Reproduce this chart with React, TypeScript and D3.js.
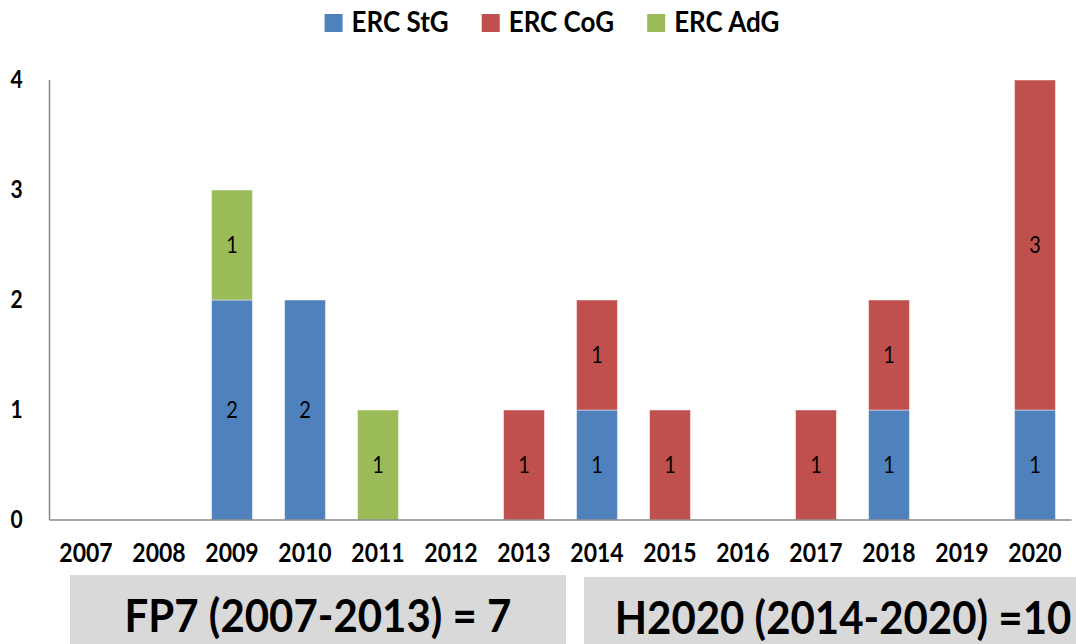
import { useEffect, useRef } from "react";
import * as d3 from "d3";

const years = ["2007", "2008", "2009", "2010", "2011", "2012", "2013", "2014", "2015", "2016", "2017", "2018", "2019", "2020"];
const stgValues = [0, 0, 2, 2, 0, 0, 0, 1, 0, 0, 0, 1, 0, 1];
const cogValues = [0, 0, 0, 0, 0, 0, 1, 1, 1, 0, 1, 1, 0, 3];
const adgValues = [0, 0, 1, 0, 1, 0, 0, 0, 0, 0, 0, 0, 0, 0];
const seriesNames = ["ERC StG", "ERC CoG", "ERC AdG"];
const seriesColors = ["#4F81BD", "#C0504D", "#9BBB59"];
const yTicks = [0, 1, 2, 3, 4];
const periodLabels = ["FP7 (2007-2013) = 7", "H2020 (2014-2020) =10"];

const FONT = "Lato, 'Open Sans', sans-serif";
// 原图字体偏窄偏高，纵向拉伸一点
const STRETCH = 1.17;

export default function App() {
  const svgRef = useRef<SVGSVGElement>(null);
  const width = 1076;
  const height = 644;

  useEffect(() => {
    document.body.style.margin = "0";
    if (!svgRef.current) return;
    const svg = d3.select(svgRef.current);
    svg.selectAll("*").remove();

    const margin = { top: 80, right: 4.5, bottom: 124, left: 49.5 };
    const innerWidth = width - margin.left - margin.right;
    const innerHeight = height - margin.top - margin.bottom;

    const rows = years.map((year, i) => ({
      year,
      "ERC StG": stgValues[i],
      "ERC CoG": cogValues[i],
      "ERC AdG": adgValues[i],
    }));

    const stack = d3.stack<any>().keys(seriesNames);
    const layers = stack(rows);

    const x = d3
      .scaleBand()
      .domain(years)
      .range([0, innerWidth])
      .paddingInner(0.44)
      .paddingOuter(0.22);

    const y = d3.scaleLinear().domain([0, 4]).range([innerHeight, 0]);

    const color = d3.scaleOrdinal<string>().domain(seriesNames).range(seriesColors);

    const place = (px: number, py: number, k = STRETCH) =>
      `translate(${px},${py}) scale(1,${k})`;

    const g = svg
      .append("g")
      .attr("transform", `translate(${margin.left},${margin.top})`);

    // 柱子
    const layerG = g
      .selectAll(".layer")
      .data(layers)
      .enter()
      .append("g")
      .attr("class", "layer")
      .attr("fill", (d) => color(d.key));

    layerG
      .selectAll("rect")
      .data((d) => d.map((p) => ({ p, key: d.key })))
      .enter()
      .filter((d) => d.p[1] - d.p[0] > 0)
      .append("rect")
      .attr("x", (d) => x(d.p.data.year) || 0)
      .attr("width", x.bandwidth())
      .attr("y", (d) => y(d.p[1]))
      .attr("height", (d) => y(d.p[0]) - y(d.p[1]))
      .attr("stroke", "#ffffff")
      .attr("stroke-opacity", 0.45)
      .attr("stroke-width", 1);

    // 数值标签
    layerG
      .selectAll("text")
      .data((d) => d.map((p) => ({ p, key: d.key })))
      .enter()
      .filter((d) => d.p[1] - d.p[0] > 0)
      .append("text")
      .attr("transform", (d) =>
        place((x(d.p.data.year) || 0) + x.bandwidth() / 2, (y(d.p[0]) + y(d.p[1])) / 2 + 8),
      )
      .attr("text-anchor", "middle")
      .style("fill", "#000")
      .style("font-family", FONT)
      .style("font-size", "20px")
      .text((d) => String(d.p[1] - d.p[0]));

    // 坐标轴
    g.append("line")
      .attr("x1", 0)
      .attr("x2", 0)
      .attr("y1", 0)
      .attr("y2", innerHeight)
      .attr("stroke", "#898989")
      .attr("stroke-width", 1.5);

    g.append("line")
      .attr("x1", 0)
      .attr("x2", innerWidth)
      .attr("y1", innerHeight)
      .attr("y2", innerHeight)
      .attr("stroke", "#898989")
      .attr("stroke-width", 1.5);

    g.selectAll(".ytick")
      .data(yTicks)
      .enter()
      .append("text")
      .attr("class", "ytick")
      .attr("transform", (d) => place(-33, y(d) + 8))
      .attr("text-anchor", "middle")
      .style("font-family", FONT)
      .style("font-weight", "bold")
      .style("font-size", "21px")
      .text((d) => String(d));

    g.selectAll(".xtick")
      .data(years)
      .enter()
      .append("text")
      .attr("class", "xtick")
      .attr("transform", (d) => place((x(d) || 0) + x.bandwidth() / 2, innerHeight + 42))
      .attr("text-anchor", "middle")
      .style("font-family", FONT)
      .style("font-weight", "bold")
      .style("font-size", "23px")
      .text((d) => d);

    // 图例
    const legend = svg.append("g");
    const items = legend
      .selectAll(".item")
      .data(seriesNames)
      .enter()
      .append("g")
      .attr("class", "item");
    items
      .append("rect")
      .attr("width", 18)
      .attr("height", 18)
      .attr("y", 14)
      .attr("fill", (d) => color(d));
    items
      .append("text")
      .attr("transform", place(27, 32, 1.12))
      .style("font-family", FONT)
      .style("font-weight", "bold")
      .style("font-size", "26px")
      .text((d) => d);
    let cursor = 0;
    items.each(function () {
      const node = this as SVGGElement;
      d3.select(node).attr("transform", `translate(${cursor},0)`);
      const tw = (node.querySelector("text") as SVGTextElement).getComputedTextLength();
      cursor += 27 + tw + 33;
    });
    const legendW = cursor - 33;
    legend.attr("transform", `translate(${552 - legendW / 2},0)`);

    // 底部分期框
    const boxes = [
      { x0: 70, x1: 566, top: 575, label: periodLabels[0], cx: 318, base: 632 },
      { x0: 584, x1: 1080, top: 577, label: periodLabels[1], cx: 843, base: 634 },
    ];
    const bg = svg.append("g");
    bg.selectAll("rect")
      .data(boxes)
      .enter()
      .append("rect")
      .attr("x", (d) => d.x0)
      .attr("y", (d) => d.top)
      .attr("width", (d) => d.x1 - d.x0)
      .attr("height", (d) => height - d.top + 2)
      .attr("fill", "#d9d9d9");
    bg.selectAll("text")
      .data(boxes)
      .enter()
      .append("text")
      .attr("transform", (d) => place(d.cx, d.base, 1.1))
      .attr("text-anchor", "middle")
      .style("font-family", FONT)
      .style("font-weight", "bold")
      .style("font-size", "42px")
      .text((d) => d.label);
  }, []);

  return (
    <svg
      ref={svgRef}
      width={width}
      height={height}
      viewBox={`0 0 ${width} ${height}`}
      style={{ display: "block", background: "#fff" }}
    />
  );
}
